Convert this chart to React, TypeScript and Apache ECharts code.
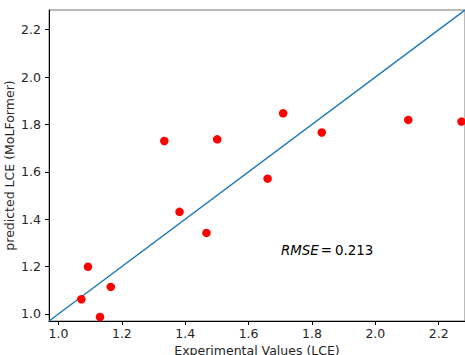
import React, { useEffect, useRef } from "react";
import * as echarts from "echarts";

// Values
const experimental = [1.072, 1.093, 1.131, 1.165, 1.334, 1.382, 1.467, 1.501, 1.66, 1.709, 1.831, 2.104, 2.272];
const predicted = [1.062, 1.199, 0.987, 1.114, 1.73, 1.431, 1.342, 1.737, 1.571, 1.847, 1.766, 1.819, 1.812];
const tickValues = [1.0, 1.2, 1.4, 1.6, 1.8, 2.0, 2.2];
const axisRange = [0.97, 2.283];
const rmseLabel = "RMSE";
const rmseValue = "0.213";
const xTitle = "Experimental Values (LCE)";
const yTitle = "predicted LCE (MoLFormer)";

const FONT = "DejaVu Sans";

export default function App() {
  const ref = useRef<HTMLDivElement>(null);
  useEffect(() => {
    if (!ref.current) return;
    const chart = echarts.init(ref.current, undefined, { renderer: "svg" });
    const points = experimental.map((x, i) => [x, predicted[i]]);
    const axisCommon = (name: string, isX: boolean) => ({
      type: "value" as const,
      min: axisRange[0],
      max: axisRange[1],
      name,
      nameLocation: "middle" as const,
      nameGap: isX ? 23 : 33,
      nameMoveOverlap: false,
      nameTextStyle: {
        fontFamily: FONT,
        fontSize: 12.5,
        color: "#262626",
        verticalAlign: isX ? ("top" as const) : undefined,
      },
      splitLine: { show: false },
      axisLine: { show: true, onZero: false, lineStyle: { color: "#000", width: 1 } },
      axisTick: {
        show: true,
        inside: false,
        length: 4,
        customValues: tickValues,
        lineStyle: { color: "#000", width: 1 },
      },
      axisLabel: {
        show: true,
        customValues: tickValues,
        fontFamily: FONT,
        fontSize: 12.5,
        color: "#262626",
        margin: isX ? 6 : 8,
        formatter: (v: number) => v.toFixed(1),
      },
    });
    chart.setOption({
      animation: false,
      backgroundColor: "#fff",
      grid: {
        left: 49,
        right: 0,
        top: 10,
        bottom: 34,
        show: true,
        borderColor: "#777",
        borderWidth: 1,
        containLabel: false,
        outerBoundsMode: "none",
      },
      xAxis: axisCommon(xTitle, true),
      yAxis: axisCommon(yTitle, false),
      series: [
        {
          type: "line",
          data: [
            [axisRange[0], axisRange[0]],
            [axisRange[1], axisRange[1]],
          ],
          showSymbol: false,
          symbol: "none",
          lineStyle: { color: "#1f77b4", width: 1.5 },
          z: 2,
        },
        {
          type: "scatter",
          data: points,
          symbol: "circle",
          symbolSize: 8.5,
          itemStyle: { color: "#ff0000", opacity: 1 },
          z: 3,
        },
      ],
      graphic: [
        {
          type: "text",
          left: 281,
          top: 244,
          style: {
            text: `{i|${rmseLabel}}{e|=}{n|${rmseValue}}`,
            rich: {
              i: { fontFamily: FONT, fontStyle: "italic", fontSize: 13.4, fill: "#000" },
              e: { fontFamily: FONT, fontSize: 13.4, fill: "#000", padding: [0, 3, 0, 2] },
              n: { fontFamily: FONT, fontSize: 13.4, fill: "#000" },
            },
          },
        },
      ],
    });
    return () => chart.dispose();
  }, []);
  return (
    <div
      ref={ref}
      style={{ position: "absolute", left: 0, top: 0, width: 465, height: 355 }}
    />
  );
}
